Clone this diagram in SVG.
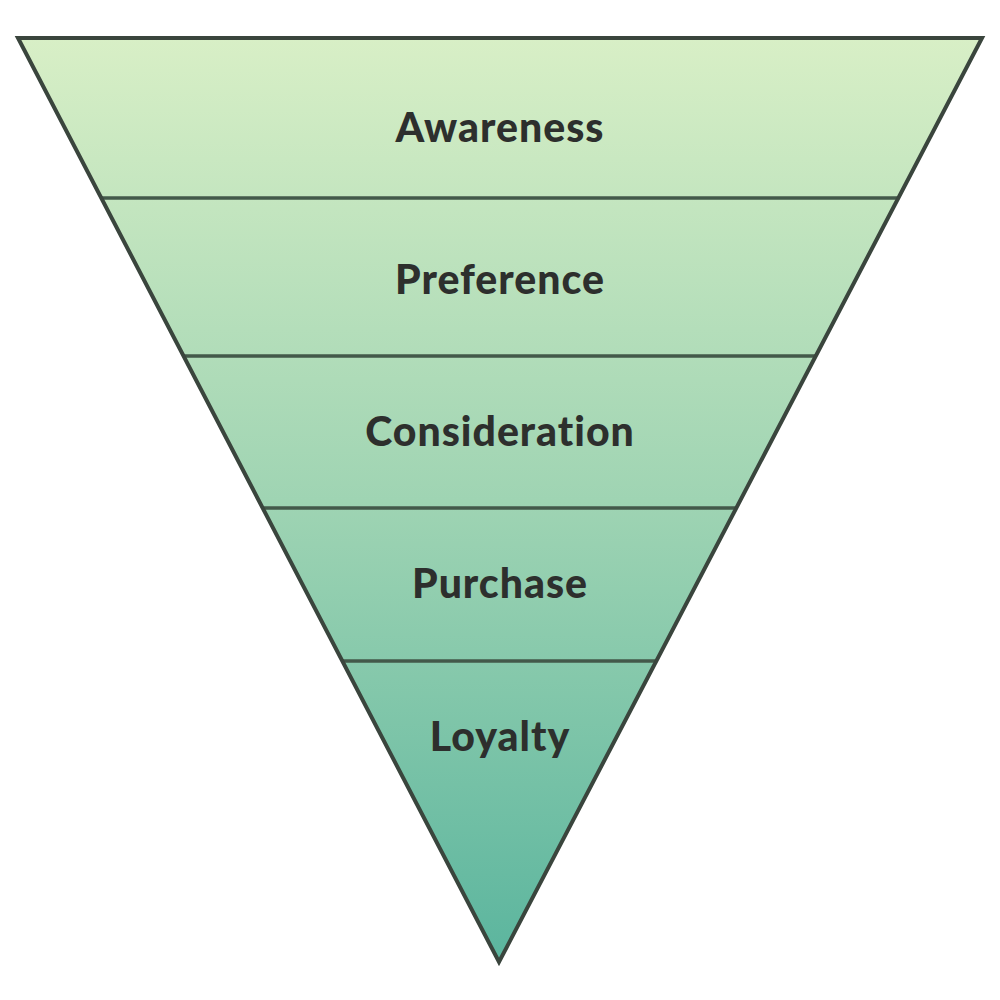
<svg xmlns="http://www.w3.org/2000/svg" width="1000" height="1000" viewBox="0 0 1000 1000">
<defs>
<linearGradient id="g" x1="0" y1="38" x2="0" y2="962" gradientUnits="userSpaceOnUse">
<stop offset="0" stop-color="#d8efc6"/>
<stop offset="0.5" stop-color="#9fd4b3"/>
<stop offset="1" stop-color="#5bb59e"/>
</linearGradient>
<style>
.lbl{font-family:Lato,"Liberation Sans",sans-serif;font-weight:900;font-size:41px;letter-spacing:1px;fill:#2d2f2d;text-anchor:middle}
.div{stroke:#43594a;stroke-width:3.5}
</style>
</defs>
<rect width="1000" height="1000" fill="#ffffff"/>
<g id="funnel">
<polygon points="18,38 982,38 499,962" fill="url(#g)"/>
</g>
<g id="connectors">
<line class="div" x1="101" y1="198" x2="898" y2="198"/>
<line class="div" x1="184" y1="356" x2="816" y2="356"/>
<line class="div" x1="264" y1="508" x2="736" y2="508"/>
<line class="div" x1="343" y1="661" x2="656" y2="661"/>
</g>
<polygon points="18,38 982,38 499,962" fill="none" stroke="#3a453d" stroke-width="4" stroke-linejoin="miter"/>
<g id="awareness"><text class="lbl" x="500" y="142">Awareness</text></g>
<g id="preference"><text class="lbl" x="500" y="294">Preference</text></g>
<g id="consideration"><text class="lbl" x="500" y="446">Consideration</text></g>
<g id="purchase"><text class="lbl" x="500" y="598">Purchase</text></g>
<g id="loyalty"><text class="lbl" x="500" y="751">Loyalty</text></g>
</svg>
